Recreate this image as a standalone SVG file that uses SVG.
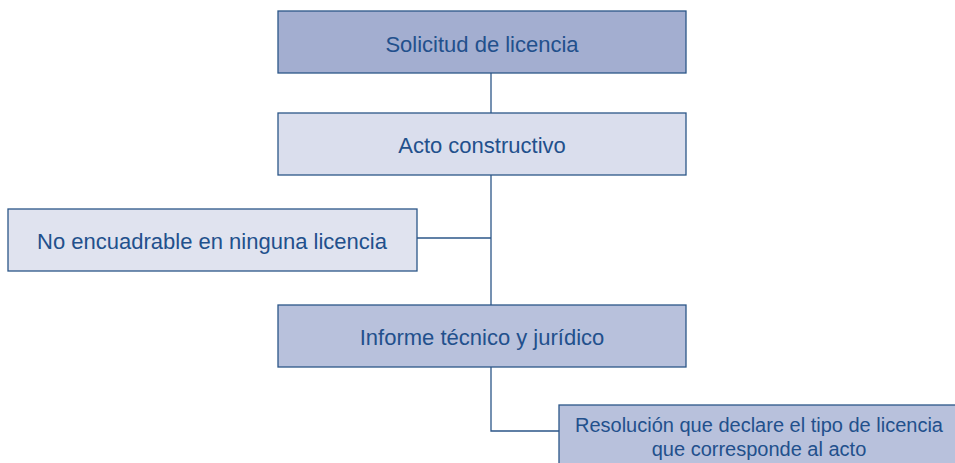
<svg xmlns="http://www.w3.org/2000/svg" width="955" height="463" viewBox="0 0 955 463">
<style>
.box{stroke:#2b5688;stroke-width:1.3}
.t{font-family:"Liberation Sans",Arial,sans-serif;font-size:22px;fill:#22508c;text-anchor:middle}
.s{font-size:20px}
.c{fill:none;stroke:#2b5688;stroke-width:1.3}
</style>
<rect width="955" height="463" fill="#ffffff"/>
<g id="connectors">
<path class="c" d="M491 73V113"/>
<path class="c" d="M491 175V305"/>
<path class="c" d="M417 238H491"/>
<path class="c" d="M491 367V431H559"/>
</g>
<g id="n1"><rect class="box" x="278" y="11" width="408" height="62" fill="#a3aed0"/><text class="t" x="482" y="52">Solicitud de licencia</text></g>
<g id="n2"><rect class="box" x="278" y="113" width="408" height="62" fill="#dadeed"/><text class="t" x="482" y="153">Acto constructivo</text></g>
<g id="n3"><rect class="box" x="8" y="209" width="409" height="62" fill="#e0e3ef"/><text class="t" x="212" y="249">No encuadrable en ninguna licencia</text></g>
<g id="n4"><rect class="box" x="278" y="305" width="408" height="62" fill="#b8c1dc"/><text class="t" x="482" y="345">Informe técnico y jurídico</text></g>
<g id="n5"><rect class="box" x="559" y="405" width="410" height="70" fill="#b8c1dc"/><text class="t s" x="759" y="432">Resolución que declare el tipo de licencia</text><text class="t s" x="759" y="456">que corresponde al acto</text></g>
</svg>
